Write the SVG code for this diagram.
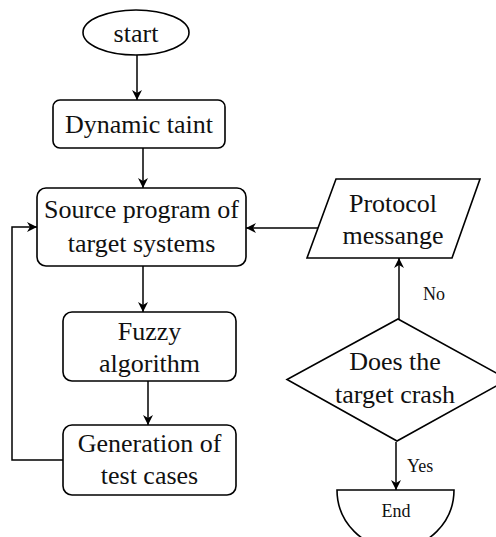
<svg xmlns="http://www.w3.org/2000/svg" width="496" height="537" viewBox="0 0 496 537">
  <style>
    .shape { fill: #ffffff; stroke: #000000; stroke-width: 1.6; }
    .line { fill: none; stroke: #000000; stroke-width: 1.5; }
    .t { font-family: "Liberation Serif", "Times New Roman", serif; font-size: 26px; fill: #111111; text-anchor: middle; }
    .s { font-family: "Liberation Serif", "Times New Roman", serif; font-size: 18px; fill: #111111; }
  </style>
  <defs>
    <marker id="arrow" viewBox="0 0 10 10" refX="10" refY="5" markerWidth="10" markerHeight="10" markerUnits="userSpaceOnUse" orient="auto">
      <path d="M0,0 L10,5 L0,10 L3,5 Z" fill="#000000"/>
    </marker>
  </defs>
  <rect width="496" height="537" fill="#ffffff"/>

  <g id="connectors">
    <path class="line" d="M137,55 V100" marker-end="url(#arrow)"/>
    <path class="line" d="M143,148 V188" marker-end="url(#arrow)"/>
    <path class="line" d="M143,266 V312" marker-end="url(#arrow)"/>
    <path class="line" d="M148,381 V425" marker-end="url(#arrow)"/>
    <path class="line" d="M63,460 H12 V227 H37" marker-end="url(#arrow)"/>
    <path class="line" d="M318,228 H246" marker-end="url(#arrow)"/>
    <path class="line" d="M399,319 V258" marker-end="url(#arrow)"/>
    <path class="line" d="M396,442 V490" marker-end="url(#arrow)"/>
    <text class="s" x="423" y="300">No</text>
    <text class="s" x="407" y="472">Yes</text>
  </g>

  <g id="start">
    <ellipse class="shape" cx="136" cy="32.5" rx="53" ry="22.5"/>
    <text class="t" x="136" y="42">start</text>
  </g>

  <g id="dynamic-taint">
    <rect class="shape" x="53" y="100" width="172" height="48" rx="7"/>
    <text class="t" x="139" y="133">Dynamic taint</text>
  </g>

  <g id="source-program">
    <rect class="shape" x="37" y="188" width="209" height="78" rx="9"/>
    <text class="t" x="141.5" y="218">Source program of</text>
    <text class="t" x="141.5" y="252">target systems</text>
  </g>

  <g id="fuzzy-algorithm">
    <rect class="shape" x="63" y="312" width="173" height="69" rx="9"/>
    <text class="t" x="149.5" y="340">Fuzzy</text>
    <text class="t" x="149.5" y="372">algorithm</text>
  </g>

  <g id="test-cases">
    <rect class="shape" x="63" y="425" width="173" height="70" rx="9"/>
    <text class="t" x="149.5" y="452">Generation of</text>
    <text class="t" x="149.5" y="484">test cases</text>
  </g>

  <g id="protocol-message">
    <polygon class="shape" points="336,179 480,179 452,258 307,258"/>
    <text class="t" x="393" y="212">Protocol</text>
    <text class="t" x="393" y="244">messange</text>
  </g>

  <g id="crash-check">
    <polygon class="shape" points="398,319 508,379.5 397,441 287,379.5"/>
    <text class="t" x="395" y="370">Does the</text>
    <text class="t" x="395" y="403">target crash</text>
  </g>

  <g id="end">
    <path class="shape" d="M337,490 H454 A58.5,58.5 0 0 1 337,490 Z"/>
    <text class="s" x="396" y="517" text-anchor="middle">End</text>
  </g>
</svg>
